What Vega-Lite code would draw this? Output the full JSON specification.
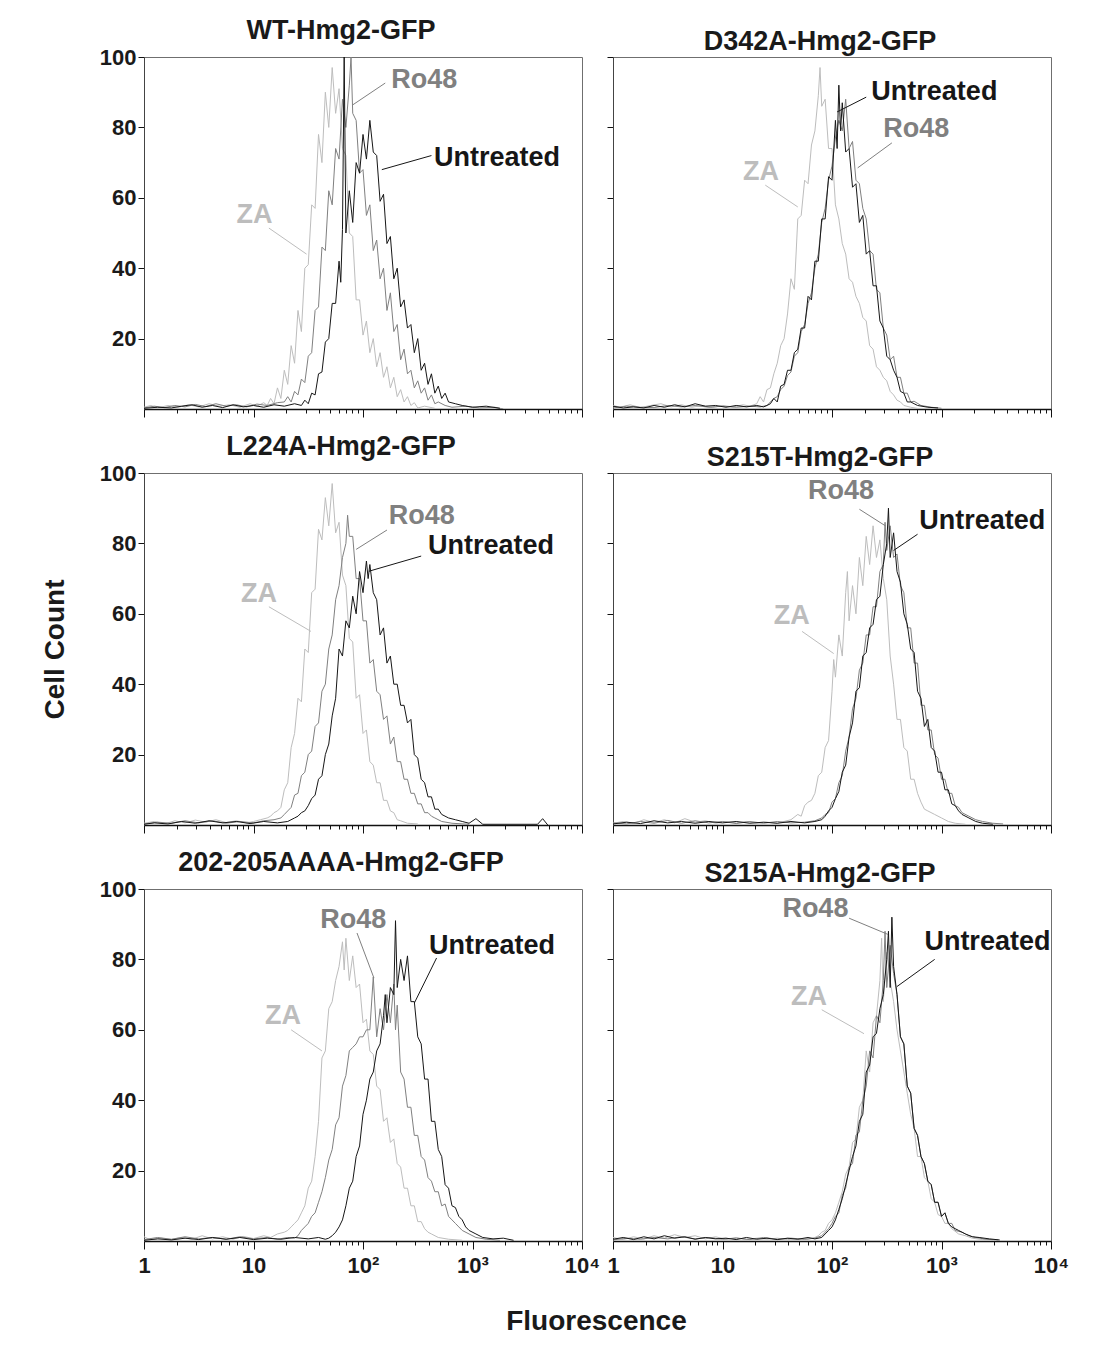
{
"$schema": "https://vega.github.io/schema/vega-lite/v6.json",
"background": "white",
"padding": {"left": 40, "top": 16, "right": 5, "bottom": 5},
"columns": 2,
"spacing": {"row": 64, "column": 31},
"bounds": "flush",
"datasets": {
"curves": [
{"p":"WT","s":"ZA","c":0,"n":0.5},{"p":"WT","s":"ZA","c":4,"n":1},{"p":"WT","s":"ZA","c":8,"n":0.3},{"p":"WT","s":"ZA","c":14,"n":1},{"p":"WT","s":"ZA","c":20,"n":0.5},{"p":"WT","s":"ZA","c":26,"n":1.2},{"p":"WT","s":"ZA","c":32,"n":0.6},{"p":"WT","s":"ZA","c":38,"n":1.5},{"p":"WT","s":"ZA","c":44,"n":0.8},{"p":"WT","s":"ZA","c":50,"n":1.2},{"p":"WT","s":"ZA","c":56,"n":0.5},{"p":"WT","s":"ZA","c":62,"n":1.5},{"p":"WT","s":"ZA","c":66,"n":0.8},{"p":"WT","s":"ZA","c":70,"n":1.8},{"p":"WT","s":"ZA","c":72,"n":1},{"p":"WT","s":"ZA","c":74,"n":3},{"p":"WT","s":"ZA","c":76,"n":1.5},{"p":"WT","s":"ZA","c":78,"n":6},{"p":"WT","s":"ZA","c":80,"n":3},{"p":"WT","s":"ZA","c":82,"n":11},{"p":"WT","s":"ZA","c":84,"n":7},{"p":"WT","s":"ZA","c":86,"n":18},{"p":"WT","s":"ZA","c":88,"n":13},{"p":"WT","s":"ZA","c":90,"n":28},{"p":"WT","s":"ZA","c":92,"n":22},{"p":"WT","s":"ZA","c":94,"n":40},{"p":"WT","s":"ZA","c":96,"n":41},{"p":"WT","s":"ZA","c":98,"n":58},{"p":"WT","s":"ZA","c":100,"n":57},{"p":"WT","s":"ZA","c":102,"n":78},{"p":"WT","s":"ZA","c":104,"n":70},{"p":"WT","s":"ZA","c":106,"n":90},{"p":"WT","s":"ZA","c":108,"n":80},{"p":"WT","s":"ZA","c":110,"n":97},{"p":"WT","s":"ZA","c":112,"n":84},{"p":"WT","s":"ZA","c":114,"n":91},{"p":"WT","s":"ZA","c":116,"n":74},{"p":"WT","s":"ZA","c":118,"n":72},{"p":"WT","s":"ZA","c":120,"n":50},{"p":"WT","s":"ZA","c":122,"n":49},{"p":"WT","s":"ZA","c":124,"n":31},{"p":"WT","s":"ZA","c":126,"n":31},{"p":"WT","s":"ZA","c":128,"n":21},{"p":"WT","s":"ZA","c":130,"n":25},{"p":"WT","s":"ZA","c":132,"n":16},{"p":"WT","s":"ZA","c":134,"n":20},{"p":"WT","s":"ZA","c":136,"n":12},{"p":"WT","s":"ZA","c":138,"n":16},{"p":"WT","s":"ZA","c":140,"n":9},{"p":"WT","s":"ZA","c":142,"n":12},{"p":"WT","s":"ZA","c":144,"n":6},{"p":"WT","s":"ZA","c":146,"n":9},{"p":"WT","s":"ZA","c":148,"n":3.5},{"p":"WT","s":"ZA","c":150,"n":5.5},{"p":"WT","s":"ZA","c":152,"n":2},{"p":"WT","s":"ZA","c":154,"n":3.5},{"p":"WT","s":"ZA","c":156,"n":1},{"p":"WT","s":"ZA","c":158,"n":1.8},{"p":"WT","s":"ZA","c":160,"n":0.3},{"p":"WT","s":"ZA","c":164,"n":0.8},{"p":"WT","s":"ZA","c":170,"n":0.2},
{"p":"WT","s":"Ro48","c":0,"n":0.3},{"p":"WT","s":"Ro48","c":6,"n":0.8},{"p":"WT","s":"Ro48","c":12,"n":0.4},{"p":"WT","s":"Ro48","c":18,"n":1},{"p":"WT","s":"Ro48","c":24,"n":0.6},{"p":"WT","s":"Ro48","c":30,"n":1.3},{"p":"WT","s":"Ro48","c":36,"n":0.7},{"p":"WT","s":"Ro48","c":42,"n":1.5},{"p":"WT","s":"Ro48","c":48,"n":0.8},{"p":"WT","s":"Ro48","c":54,"n":1.2},{"p":"WT","s":"Ro48","c":60,"n":0.6},{"p":"WT","s":"Ro48","c":66,"n":1.4},{"p":"WT","s":"Ro48","c":72,"n":1},{"p":"WT","s":"Ro48","c":78,"n":1.8},{"p":"WT","s":"Ro48","c":82,"n":2},{"p":"WT","s":"Ro48","c":84,"n":3.5},{"p":"WT","s":"Ro48","c":86,"n":2},{"p":"WT","s":"Ro48","c":88,"n":5},{"p":"WT","s":"Ro48","c":90,"n":4},{"p":"WT","s":"Ro48","c":92,"n":8.5},{"p":"WT","s":"Ro48","c":94,"n":7.5},{"p":"WT","s":"Ro48","c":96,"n":15},{"p":"WT","s":"Ro48","c":98,"n":16},{"p":"WT","s":"Ro48","c":100,"n":28},{"p":"WT","s":"Ro48","c":102,"n":29},{"p":"WT","s":"Ro48","c":104,"n":46},{"p":"WT","s":"Ro48","c":106,"n":45},{"p":"WT","s":"Ro48","c":108,"n":62},{"p":"WT","s":"Ro48","c":110,"n":58},{"p":"WT","s":"Ro48","c":112,"n":74},{"p":"WT","s":"Ro48","c":114,"n":71},{"p":"WT","s":"Ro48","c":116,"n":88},{"p":"WT","s":"Ro48","c":118,"n":80},{"p":"WT","s":"Ro48","c":120,"n":92},{"p":"WT","s":"Ro48","c":121,"n":100},{"p":"WT","s":"Ro48","c":122,"n":84},{"p":"WT","s":"Ro48","c":124,"n":82},{"p":"WT","s":"Ro48","c":126,"n":67},{"p":"WT","s":"Ro48","c":128,"n":68},{"p":"WT","s":"Ro48","c":130,"n":55},{"p":"WT","s":"Ro48","c":132,"n":58},{"p":"WT","s":"Ro48","c":134,"n":45},{"p":"WT","s":"Ro48","c":136,"n":48},{"p":"WT","s":"Ro48","c":138,"n":37},{"p":"WT","s":"Ro48","c":140,"n":40},{"p":"WT","s":"Ro48","c":142,"n":28},{"p":"WT","s":"Ro48","c":144,"n":33},{"p":"WT","s":"Ro48","c":146,"n":22},{"p":"WT","s":"Ro48","c":148,"n":24},{"p":"WT","s":"Ro48","c":150,"n":14},{"p":"WT","s":"Ro48","c":152,"n":17},{"p":"WT","s":"Ro48","c":154,"n":10},{"p":"WT","s":"Ro48","c":156,"n":11},{"p":"WT","s":"Ro48","c":158,"n":6},{"p":"WT","s":"Ro48","c":160,"n":8},{"p":"WT","s":"Ro48","c":162,"n":4.5},{"p":"WT","s":"Ro48","c":164,"n":6},{"p":"WT","s":"Ro48","c":166,"n":2.5},{"p":"WT","s":"Ro48","c":168,"n":4},{"p":"WT","s":"Ro48","c":170,"n":1.5},{"p":"WT","s":"Ro48","c":172,"n":2},{"p":"WT","s":"Ro48","c":176,"n":1},{"p":"WT","s":"Ro48","c":180,"n":0.5},{"p":"WT","s":"Ro48","c":188,"n":0.8},{"p":"WT","s":"Ro48","c":196,"n":0.3},{"p":"WT","s":"Ro48","c":205,"n":0.5},{"p":"WT","s":"Ro48","c":210,"n":0},
{"p":"WT","s":"Untreated","c":0,"n":0.2},{"p":"WT","s":"Untreated","c":8,"n":0.5},{"p":"WT","s":"Untreated","c":16,"n":0.3},{"p":"WT","s":"Untreated","c":22,"n":0.8},{"p":"WT","s":"Untreated","c":28,"n":1.2},{"p":"WT","s":"Untreated","c":34,"n":0.5},{"p":"WT","s":"Untreated","c":40,"n":1},{"p":"WT","s":"Untreated","c":46,"n":0.4},{"p":"WT","s":"Untreated","c":52,"n":1.2},{"p":"WT","s":"Untreated","c":58,"n":0.6},{"p":"WT","s":"Untreated","c":64,"n":1},{"p":"WT","s":"Untreated","c":70,"n":0.5},{"p":"WT","s":"Untreated","c":76,"n":1.2},{"p":"WT","s":"Untreated","c":82,"n":0.8},{"p":"WT","s":"Untreated","c":88,"n":1.5},{"p":"WT","s":"Untreated","c":92,"n":1},{"p":"WT","s":"Untreated","c":94,"n":2.5},{"p":"WT","s":"Untreated","c":96,"n":1.5},{"p":"WT","s":"Untreated","c":98,"n":4.5},{"p":"WT","s":"Untreated","c":100,"n":4},{"p":"WT","s":"Untreated","c":102,"n":10},{"p":"WT","s":"Untreated","c":104,"n":10.5},{"p":"WT","s":"Untreated","c":106,"n":19},{"p":"WT","s":"Untreated","c":108,"n":20},{"p":"WT","s":"Untreated","c":110,"n":30},{"p":"WT","s":"Untreated","c":112,"n":30},{"p":"WT","s":"Untreated","c":114,"n":42},{"p":"WT","s":"Untreated","c":115,"n":36},{"p":"WT","s":"Untreated","c":116,"n":51},{"p":"WT","s":"Untreated","c":117,"n":100},{"p":"WT","s":"Untreated","c":118,"n":50},{"p":"WT","s":"Untreated","c":120,"n":62},{"p":"WT","s":"Untreated","c":122,"n":53},{"p":"WT","s":"Untreated","c":124,"n":70},{"p":"WT","s":"Untreated","c":126,"n":67},{"p":"WT","s":"Untreated","c":128,"n":78},{"p":"WT","s":"Untreated","c":130,"n":71},{"p":"WT","s":"Untreated","c":132,"n":82},{"p":"WT","s":"Untreated","c":134,"n":73},{"p":"WT","s":"Untreated","c":136,"n":72},{"p":"WT","s":"Untreated","c":138,"n":59},{"p":"WT","s":"Untreated","c":140,"n":61},{"p":"WT","s":"Untreated","c":142,"n":47},{"p":"WT","s":"Untreated","c":144,"n":49},{"p":"WT","s":"Untreated","c":146,"n":37},{"p":"WT","s":"Untreated","c":148,"n":40},{"p":"WT","s":"Untreated","c":150,"n":29},{"p":"WT","s":"Untreated","c":152,"n":31},{"p":"WT","s":"Untreated","c":154,"n":23},{"p":"WT","s":"Untreated","c":156,"n":24},{"p":"WT","s":"Untreated","c":158,"n":16},{"p":"WT","s":"Untreated","c":160,"n":20},{"p":"WT","s":"Untreated","c":162,"n":11},{"p":"WT","s":"Untreated","c":164,"n":13},{"p":"WT","s":"Untreated","c":166,"n":7},{"p":"WT","s":"Untreated","c":168,"n":10},{"p":"WT","s":"Untreated","c":170,"n":4.5},{"p":"WT","s":"Untreated","c":172,"n":6.5},{"p":"WT","s":"Untreated","c":174,"n":3},{"p":"WT","s":"Untreated","c":176,"n":4.5},{"p":"WT","s":"Untreated","c":178,"n":2},{"p":"WT","s":"Untreated","c":182,"n":1.5},{"p":"WT","s":"Untreated","c":186,"n":1},{"p":"WT","s":"Untreated","c":192,"n":0.5},{"p":"WT","s":"Untreated","c":200,"n":0.8},{"p":"WT","s":"Untreated","c":208,"n":0.2},
{"p":"D342A","s":"ZA","c":0,"n":1},{"p":"D342A","s":"ZA","c":4,"n":0.5},{"p":"D342A","s":"ZA","c":10,"n":1.2},{"p":"D342A","s":"ZA","c":16,"n":0.4},{"p":"D342A","s":"ZA","c":22,"n":1},{"p":"D342A","s":"ZA","c":28,"n":1.5},{"p":"D342A","s":"ZA","c":34,"n":0.6},{"p":"D342A","s":"ZA","c":40,"n":1.2},{"p":"D342A","s":"ZA","c":46,"n":0.5},{"p":"D342A","s":"ZA","c":52,"n":1},{"p":"D342A","s":"ZA","c":58,"n":0.4},{"p":"D342A","s":"ZA","c":64,"n":1},{"p":"D342A","s":"ZA","c":70,"n":0.6},{"p":"D342A","s":"ZA","c":76,"n":1.2},{"p":"D342A","s":"ZA","c":80,"n":0.8},{"p":"D342A","s":"ZA","c":84,"n":1.5},{"p":"D342A","s":"ZA","c":86,"n":3.5},{"p":"D342A","s":"ZA","c":88,"n":2},{"p":"D342A","s":"ZA","c":90,"n":5.5},{"p":"D342A","s":"ZA","c":92,"n":6},{"p":"D342A","s":"ZA","c":94,"n":10},{"p":"D342A","s":"ZA","c":96,"n":13},{"p":"D342A","s":"ZA","c":98,"n":18},{"p":"D342A","s":"ZA","c":100,"n":20},{"p":"D342A","s":"ZA","c":102,"n":27},{"p":"D342A","s":"ZA","c":104,"n":37},{"p":"D342A","s":"ZA","c":106,"n":34},{"p":"D342A","s":"ZA","c":108,"n":54},{"p":"D342A","s":"ZA","c":110,"n":55},{"p":"D342A","s":"ZA","c":112,"n":65},{"p":"D342A","s":"ZA","c":114,"n":64},{"p":"D342A","s":"ZA","c":116,"n":75},{"p":"D342A","s":"ZA","c":118,"n":79},{"p":"D342A","s":"ZA","c":120,"n":89},{"p":"D342A","s":"ZA","c":121,"n":97},{"p":"D342A","s":"ZA","c":122,"n":86},{"p":"D342A","s":"ZA","c":124,"n":88},{"p":"D342A","s":"ZA","c":126,"n":74},{"p":"D342A","s":"ZA","c":128,"n":74},{"p":"D342A","s":"ZA","c":130,"n":58},{"p":"D342A","s":"ZA","c":132,"n":54},{"p":"D342A","s":"ZA","c":134,"n":47},{"p":"D342A","s":"ZA","c":136,"n":44},{"p":"D342A","s":"ZA","c":138,"n":37},{"p":"D342A","s":"ZA","c":140,"n":36},{"p":"D342A","s":"ZA","c":142,"n":32},{"p":"D342A","s":"ZA","c":144,"n":30},{"p":"D342A","s":"ZA","c":146,"n":26},{"p":"D342A","s":"ZA","c":148,"n":25},{"p":"D342A","s":"ZA","c":150,"n":18},{"p":"D342A","s":"ZA","c":152,"n":17},{"p":"D342A","s":"ZA","c":154,"n":12},{"p":"D342A","s":"ZA","c":156,"n":11},{"p":"D342A","s":"ZA","c":158,"n":9},{"p":"D342A","s":"ZA","c":160,"n":8},{"p":"D342A","s":"ZA","c":162,"n":5},{"p":"D342A","s":"ZA","c":164,"n":4},{"p":"D342A","s":"ZA","c":166,"n":2.5},{"p":"D342A","s":"ZA","c":168,"n":2},{"p":"D342A","s":"ZA","c":170,"n":1},{"p":"D342A","s":"ZA","c":174,"n":0.5},{"p":"D342A","s":"ZA","c":180,"n":0},
{"p":"D342A","s":"Ro48","c":0,"n":0.3},{"p":"D342A","s":"Ro48","c":8,"n":0.8},{"p":"D342A","s":"Ro48","c":16,"n":0.5},{"p":"D342A","s":"Ro48","c":24,"n":0.4},{"p":"D342A","s":"Ro48","c":32,"n":1},{"p":"D342A","s":"Ro48","c":40,"n":0.6},{"p":"D342A","s":"Ro48","c":48,"n":1},{"p":"D342A","s":"Ro48","c":56,"n":0.5},{"p":"D342A","s":"Ro48","c":64,"n":0.8},{"p":"D342A","s":"Ro48","c":72,"n":0.5},{"p":"D342A","s":"Ro48","c":80,"n":0.8},{"p":"D342A","s":"Ro48","c":86,"n":0.6},{"p":"D342A","s":"Ro48","c":90,"n":1},{"p":"D342A","s":"Ro48","c":92,"n":2},{"p":"D342A","s":"Ro48","c":94,"n":3},{"p":"D342A","s":"Ro48","c":96,"n":3.5},{"p":"D342A","s":"Ro48","c":98,"n":5.5},{"p":"D342A","s":"Ro48","c":100,"n":6.5},{"p":"D342A","s":"Ro48","c":102,"n":9.5},{"p":"D342A","s":"Ro48","c":104,"n":10.5},{"p":"D342A","s":"Ro48","c":106,"n":15},{"p":"D342A","s":"Ro48","c":108,"n":16},{"p":"D342A","s":"Ro48","c":110,"n":22},{"p":"D342A","s":"Ro48","c":112,"n":24},{"p":"D342A","s":"Ro48","c":114,"n":30},{"p":"D342A","s":"Ro48","c":116,"n":33},{"p":"D342A","s":"Ro48","c":118,"n":40},{"p":"D342A","s":"Ro48","c":120,"n":44},{"p":"D342A","s":"Ro48","c":122,"n":53},{"p":"D342A","s":"Ro48","c":124,"n":57},{"p":"D342A","s":"Ro48","c":126,"n":65},{"p":"D342A","s":"Ro48","c":128,"n":69},{"p":"D342A","s":"Ro48","c":130,"n":77},{"p":"D342A","s":"Ro48","c":132,"n":82},{"p":"D342A","s":"Ro48","c":134,"n":79},{"p":"D342A","s":"Ro48","c":136,"n":88},{"p":"D342A","s":"Ro48","c":138,"n":74},{"p":"D342A","s":"Ro48","c":140,"n":76},{"p":"D342A","s":"Ro48","c":142,"n":65},{"p":"D342A","s":"Ro48","c":144,"n":64},{"p":"D342A","s":"Ro48","c":146,"n":57},{"p":"D342A","s":"Ro48","c":148,"n":54},{"p":"D342A","s":"Ro48","c":150,"n":45},{"p":"D342A","s":"Ro48","c":152,"n":44},{"p":"D342A","s":"Ro48","c":154,"n":34},{"p":"D342A","s":"Ro48","c":156,"n":33},{"p":"D342A","s":"Ro48","c":158,"n":23},{"p":"D342A","s":"Ro48","c":160,"n":21},{"p":"D342A","s":"Ro48","c":162,"n":14},{"p":"D342A","s":"Ro48","c":164,"n":15},{"p":"D342A","s":"Ro48","c":166,"n":9},{"p":"D342A","s":"Ro48","c":168,"n":9},{"p":"D342A","s":"Ro48","c":170,"n":4.5},{"p":"D342A","s":"Ro48","c":172,"n":4.5},{"p":"D342A","s":"Ro48","c":174,"n":2},{"p":"D342A","s":"Ro48","c":176,"n":2.2},{"p":"D342A","s":"Ro48","c":180,"n":1},{"p":"D342A","s":"Ro48","c":186,"n":0.5},{"p":"D342A","s":"Ro48","c":192,"n":0.2},
{"p":"D342A","s":"Untreated","c":0,"n":0.8},{"p":"D342A","s":"Untreated","c":6,"n":0.3},{"p":"D342A","s":"Untreated","c":12,"n":0.6},{"p":"D342A","s":"Untreated","c":18,"n":0.3},{"p":"D342A","s":"Untreated","c":24,"n":1},{"p":"D342A","s":"Untreated","c":30,"n":0.5},{"p":"D342A","s":"Untreated","c":36,"n":1.2},{"p":"D342A","s":"Untreated","c":42,"n":0.6},{"p":"D342A","s":"Untreated","c":48,"n":1.5},{"p":"D342A","s":"Untreated","c":54,"n":0.8},{"p":"D342A","s":"Untreated","c":60,"n":1},{"p":"D342A","s":"Untreated","c":66,"n":0.5},{"p":"D342A","s":"Untreated","c":72,"n":1},{"p":"D342A","s":"Untreated","c":78,"n":0.6},{"p":"D342A","s":"Untreated","c":84,"n":1},{"p":"D342A","s":"Untreated","c":88,"n":0.6},{"p":"D342A","s":"Untreated","c":90,"n":1},{"p":"D342A","s":"Untreated","c":92,"n":1.5},{"p":"D342A","s":"Untreated","c":94,"n":3},{"p":"D342A","s":"Untreated","c":96,"n":2},{"p":"D342A","s":"Untreated","c":98,"n":6.5},{"p":"D342A","s":"Untreated","c":100,"n":7},{"p":"D342A","s":"Untreated","c":102,"n":11},{"p":"D342A","s":"Untreated","c":104,"n":11},{"p":"D342A","s":"Untreated","c":106,"n":16},{"p":"D342A","s":"Untreated","c":108,"n":17},{"p":"D342A","s":"Untreated","c":110,"n":23},{"p":"D342A","s":"Untreated","c":112,"n":23},{"p":"D342A","s":"Untreated","c":114,"n":32},{"p":"D342A","s":"Untreated","c":116,"n":31},{"p":"D342A","s":"Untreated","c":118,"n":42},{"p":"D342A","s":"Untreated","c":120,"n":42},{"p":"D342A","s":"Untreated","c":122,"n":54},{"p":"D342A","s":"Untreated","c":124,"n":54},{"p":"D342A","s":"Untreated","c":126,"n":66},{"p":"D342A","s":"Untreated","c":128,"n":65},{"p":"D342A","s":"Untreated","c":130,"n":82},{"p":"D342A","s":"Untreated","c":131,"n":74},{"p":"D342A","s":"Untreated","c":132,"n":92},{"p":"D342A","s":"Untreated","c":133,"n":79},{"p":"D342A","s":"Untreated","c":134,"n":87},{"p":"D342A","s":"Untreated","c":136,"n":73},{"p":"D342A","s":"Untreated","c":138,"n":74},{"p":"D342A","s":"Untreated","c":140,"n":63},{"p":"D342A","s":"Untreated","c":142,"n":64},{"p":"D342A","s":"Untreated","c":144,"n":53},{"p":"D342A","s":"Untreated","c":146,"n":55},{"p":"D342A","s":"Untreated","c":148,"n":44},{"p":"D342A","s":"Untreated","c":150,"n":45},{"p":"D342A","s":"Untreated","c":152,"n":35},{"p":"D342A","s":"Untreated","c":154,"n":35},{"p":"D342A","s":"Untreated","c":156,"n":25},{"p":"D342A","s":"Untreated","c":158,"n":23},{"p":"D342A","s":"Untreated","c":160,"n":15},{"p":"D342A","s":"Untreated","c":162,"n":14},{"p":"D342A","s":"Untreated","c":164,"n":11},{"p":"D342A","s":"Untreated","c":166,"n":9},{"p":"D342A","s":"Untreated","c":168,"n":5},{"p":"D342A","s":"Untreated","c":170,"n":4.5},{"p":"D342A","s":"Untreated","c":172,"n":2},{"p":"D342A","s":"Untreated","c":174,"n":2},{"p":"D342A","s":"Untreated","c":178,"n":1},{"p":"D342A","s":"Untreated","c":184,"n":0.5},{"p":"D342A","s":"Untreated","c":190,"n":0.3},
{"p":"L224A","s":"ZA","c":0,"n":0.5},{"p":"L224A","s":"ZA","c":6,"n":1},{"p":"L224A","s":"ZA","c":12,"n":0.3},{"p":"L224A","s":"ZA","c":18,"n":1.2},{"p":"L224A","s":"ZA","c":24,"n":0.6},{"p":"L224A","s":"ZA","c":30,"n":1.4},{"p":"L224A","s":"ZA","c":36,"n":0.8},{"p":"L224A","s":"ZA","c":42,"n":1.5},{"p":"L224A","s":"ZA","c":48,"n":0.7},{"p":"L224A","s":"ZA","c":54,"n":1.2},{"p":"L224A","s":"ZA","c":60,"n":0.6},{"p":"L224A","s":"ZA","c":64,"n":1},{"p":"L224A","s":"ZA","c":68,"n":1.5},{"p":"L224A","s":"ZA","c":72,"n":2},{"p":"L224A","s":"ZA","c":74,"n":2.5},{"p":"L224A","s":"ZA","c":76,"n":3.5},{"p":"L224A","s":"ZA","c":78,"n":4},{"p":"L224A","s":"ZA","c":80,"n":5},{"p":"L224A","s":"ZA","c":82,"n":10},{"p":"L224A","s":"ZA","c":84,"n":12},{"p":"L224A","s":"ZA","c":86,"n":22},{"p":"L224A","s":"ZA","c":88,"n":26},{"p":"L224A","s":"ZA","c":90,"n":36},{"p":"L224A","s":"ZA","c":92,"n":35},{"p":"L224A","s":"ZA","c":94,"n":50},{"p":"L224A","s":"ZA","c":96,"n":49},{"p":"L224A","s":"ZA","c":98,"n":66},{"p":"L224A","s":"ZA","c":100,"n":67},{"p":"L224A","s":"ZA","c":102,"n":84},{"p":"L224A","s":"ZA","c":104,"n":81},{"p":"L224A","s":"ZA","c":106,"n":93},{"p":"L224A","s":"ZA","c":108,"n":85},{"p":"L224A","s":"ZA","c":110,"n":97},{"p":"L224A","s":"ZA","c":112,"n":83},{"p":"L224A","s":"ZA","c":114,"n":86},{"p":"L224A","s":"ZA","c":116,"n":71},{"p":"L224A","s":"ZA","c":118,"n":68},{"p":"L224A","s":"ZA","c":120,"n":53},{"p":"L224A","s":"ZA","c":122,"n":52},{"p":"L224A","s":"ZA","c":124,"n":36},{"p":"L224A","s":"ZA","c":126,"n":37},{"p":"L224A","s":"ZA","c":128,"n":26},{"p":"L224A","s":"ZA","c":130,"n":27},{"p":"L224A","s":"ZA","c":132,"n":18},{"p":"L224A","s":"ZA","c":134,"n":17},{"p":"L224A","s":"ZA","c":136,"n":12},{"p":"L224A","s":"ZA","c":138,"n":12},{"p":"L224A","s":"ZA","c":140,"n":7},{"p":"L224A","s":"ZA","c":142,"n":7},{"p":"L224A","s":"ZA","c":144,"n":4},{"p":"L224A","s":"ZA","c":146,"n":3.5},{"p":"L224A","s":"ZA","c":148,"n":1.5},{"p":"L224A","s":"ZA","c":150,"n":1.2},{"p":"L224A","s":"ZA","c":154,"n":0.5},{"p":"L224A","s":"ZA","c":160,"n":0.3},
{"p":"L224A","s":"Ro48","c":0,"n":0.3},{"p":"L224A","s":"Ro48","c":8,"n":0.8},{"p":"L224A","s":"Ro48","c":16,"n":0.5},{"p":"L224A","s":"Ro48","c":24,"n":1.2},{"p":"L224A","s":"Ro48","c":32,"n":0.6},{"p":"L224A","s":"Ro48","c":40,"n":1.2},{"p":"L224A","s":"Ro48","c":48,"n":0.5},{"p":"L224A","s":"Ro48","c":56,"n":1},{"p":"L224A","s":"Ro48","c":64,"n":0.6},{"p":"L224A","s":"Ro48","c":70,"n":1.2},{"p":"L224A","s":"Ro48","c":76,"n":1.5},{"p":"L224A","s":"Ro48","c":80,"n":2},{"p":"L224A","s":"Ro48","c":82,"n":3},{"p":"L224A","s":"Ro48","c":84,"n":4},{"p":"L224A","s":"Ro48","c":86,"n":5},{"p":"L224A","s":"Ro48","c":88,"n":8.5},{"p":"L224A","s":"Ro48","c":90,"n":9},{"p":"L224A","s":"Ro48","c":92,"n":14},{"p":"L224A","s":"Ro48","c":94,"n":15},{"p":"L224A","s":"Ro48","c":96,"n":20},{"p":"L224A","s":"Ro48","c":98,"n":21},{"p":"L224A","s":"Ro48","c":100,"n":28},{"p":"L224A","s":"Ro48","c":102,"n":29},{"p":"L224A","s":"Ro48","c":104,"n":38},{"p":"L224A","s":"Ro48","c":106,"n":40},{"p":"L224A","s":"Ro48","c":108,"n":50},{"p":"L224A","s":"Ro48","c":110,"n":54},{"p":"L224A","s":"Ro48","c":112,"n":64},{"p":"L224A","s":"Ro48","c":114,"n":68},{"p":"L224A","s":"Ro48","c":116,"n":76},{"p":"L224A","s":"Ro48","c":118,"n":80},{"p":"L224A","s":"Ro48","c":119,"n":88},{"p":"L224A","s":"Ro48","c":120,"n":82},{"p":"L224A","s":"Ro48","c":122,"n":82},{"p":"L224A","s":"Ro48","c":124,"n":70},{"p":"L224A","s":"Ro48","c":126,"n":70},{"p":"L224A","s":"Ro48","c":128,"n":58},{"p":"L224A","s":"Ro48","c":130,"n":58},{"p":"L224A","s":"Ro48","c":132,"n":46},{"p":"L224A","s":"Ro48","c":134,"n":47},{"p":"L224A","s":"Ro48","c":136,"n":38},{"p":"L224A","s":"Ro48","c":138,"n":37},{"p":"L224A","s":"Ro48","c":140,"n":30},{"p":"L224A","s":"Ro48","c":142,"n":31},{"p":"L224A","s":"Ro48","c":144,"n":23},{"p":"L224A","s":"Ro48","c":146,"n":25},{"p":"L224A","s":"Ro48","c":148,"n":18},{"p":"L224A","s":"Ro48","c":150,"n":18},{"p":"L224A","s":"Ro48","c":152,"n":13},{"p":"L224A","s":"Ro48","c":154,"n":13},{"p":"L224A","s":"Ro48","c":156,"n":9},{"p":"L224A","s":"Ro48","c":158,"n":9},{"p":"L224A","s":"Ro48","c":160,"n":6},{"p":"L224A","s":"Ro48","c":162,"n":6},{"p":"L224A","s":"Ro48","c":164,"n":3.5},{"p":"L224A","s":"Ro48","c":166,"n":3.5},{"p":"L224A","s":"Ro48","c":168,"n":2.5},{"p":"L224A","s":"Ro48","c":170,"n":2},{"p":"L224A","s":"Ro48","c":174,"n":1},{"p":"L224A","s":"Ro48","c":180,"n":0.5},{"p":"L224A","s":"Ro48","c":190,"n":0.2},
{"p":"L224A","s":"Untreated","c":0,"n":0.2},{"p":"L224A","s":"Untreated","c":6,"n":0.6},{"p":"L224A","s":"Untreated","c":14,"n":0.3},{"p":"L224A","s":"Untreated","c":22,"n":1},{"p":"L224A","s":"Untreated","c":30,"n":0.5},{"p":"L224A","s":"Untreated","c":38,"n":1.2},{"p":"L224A","s":"Untreated","c":46,"n":0.6},{"p":"L224A","s":"Untreated","c":54,"n":1},{"p":"L224A","s":"Untreated","c":62,"n":0.4},{"p":"L224A","s":"Untreated","c":70,"n":1},{"p":"L224A","s":"Untreated","c":78,"n":0.6},{"p":"L224A","s":"Untreated","c":84,"n":1},{"p":"L224A","s":"Untreated","c":88,"n":2},{"p":"L224A","s":"Untreated","c":90,"n":2.5},{"p":"L224A","s":"Untreated","c":92,"n":3.5},{"p":"L224A","s":"Untreated","c":94,"n":4},{"p":"L224A","s":"Untreated","c":96,"n":5.5},{"p":"L224A","s":"Untreated","c":98,"n":7.5},{"p":"L224A","s":"Untreated","c":100,"n":8.5},{"p":"L224A","s":"Untreated","c":102,"n":13},{"p":"L224A","s":"Untreated","c":104,"n":14},{"p":"L224A","s":"Untreated","c":106,"n":20},{"p":"L224A","s":"Untreated","c":108,"n":23},{"p":"L224A","s":"Untreated","c":110,"n":31},{"p":"L224A","s":"Untreated","c":112,"n":36},{"p":"L224A","s":"Untreated","c":114,"n":50},{"p":"L224A","s":"Untreated","c":116,"n":48},{"p":"L224A","s":"Untreated","c":118,"n":58},{"p":"L224A","s":"Untreated","c":120,"n":56},{"p":"L224A","s":"Untreated","c":122,"n":65},{"p":"L224A","s":"Untreated","c":124,"n":60},{"p":"L224A","s":"Untreated","c":126,"n":72},{"p":"L224A","s":"Untreated","c":128,"n":66},{"p":"L224A","s":"Untreated","c":130,"n":75},{"p":"L224A","s":"Untreated","c":131,"n":70},{"p":"L224A","s":"Untreated","c":132,"n":74},{"p":"L224A","s":"Untreated","c":134,"n":66},{"p":"L224A","s":"Untreated","c":136,"n":64},{"p":"L224A","s":"Untreated","c":138,"n":54},{"p":"L224A","s":"Untreated","c":140,"n":56},{"p":"L224A","s":"Untreated","c":142,"n":46},{"p":"L224A","s":"Untreated","c":144,"n":48},{"p":"L224A","s":"Untreated","c":146,"n":40},{"p":"L224A","s":"Untreated","c":148,"n":40},{"p":"L224A","s":"Untreated","c":150,"n":34},{"p":"L224A","s":"Untreated","c":152,"n":34},{"p":"L224A","s":"Untreated","c":154,"n":29},{"p":"L224A","s":"Untreated","c":156,"n":30},{"p":"L224A","s":"Untreated","c":158,"n":20},{"p":"L224A","s":"Untreated","c":160,"n":19},{"p":"L224A","s":"Untreated","c":162,"n":13},{"p":"L224A","s":"Untreated","c":164,"n":12},{"p":"L224A","s":"Untreated","c":166,"n":8},{"p":"L224A","s":"Untreated","c":168,"n":8},{"p":"L224A","s":"Untreated","c":170,"n":4.5},{"p":"L224A","s":"Untreated","c":172,"n":4.5},{"p":"L224A","s":"Untreated","c":174,"n":3},{"p":"L224A","s":"Untreated","c":178,"n":2},{"p":"L224A","s":"Untreated","c":182,"n":1.5},{"p":"L224A","s":"Untreated","c":186,"n":1},{"p":"L224A","s":"Untreated","c":190,"n":0.5},{"p":"L224A","s":"Untreated","c":194,"n":1.8},{"p":"L224A","s":"Untreated","c":198,"n":0.2},{"p":"L224A","s":"Untreated","c":230,"n":0.2},{"p":"L224A","s":"Untreated","c":233,"n":1.8},{"p":"L224A","s":"Untreated","c":236,"n":0},
{"p":"S215T","s":"ZA","c":0,"n":0.5},{"p":"S215T","s":"ZA","c":6,"n":1},{"p":"S215T","s":"ZA","c":12,"n":0.4},{"p":"S215T","s":"ZA","c":18,"n":1.5},{"p":"S215T","s":"ZA","c":24,"n":0.7},{"p":"S215T","s":"ZA","c":30,"n":1.5},{"p":"S215T","s":"ZA","c":36,"n":0.6},{"p":"S215T","s":"ZA","c":42,"n":1.8},{"p":"S215T","s":"ZA","c":48,"n":0.8},{"p":"S215T","s":"ZA","c":54,"n":1.2},{"p":"S215T","s":"ZA","c":60,"n":0.5},{"p":"S215T","s":"ZA","c":66,"n":1},{"p":"S215T","s":"ZA","c":72,"n":0.6},{"p":"S215T","s":"ZA","c":78,"n":1},{"p":"S215T","s":"ZA","c":84,"n":0.5},{"p":"S215T","s":"ZA","c":90,"n":0.8},{"p":"S215T","s":"ZA","c":96,"n":0.5},{"p":"S215T","s":"ZA","c":100,"n":1},{"p":"S215T","s":"ZA","c":104,"n":1.5},{"p":"S215T","s":"ZA","c":108,"n":3},{"p":"S215T","s":"ZA","c":110,"n":2.5},{"p":"S215T","s":"ZA","c":112,"n":5.5},{"p":"S215T","s":"ZA","c":114,"n":6.5},{"p":"S215T","s":"ZA","c":116,"n":7},{"p":"S215T","s":"ZA","c":118,"n":9},{"p":"S215T","s":"ZA","c":120,"n":14},{"p":"S215T","s":"ZA","c":122,"n":15},{"p":"S215T","s":"ZA","c":124,"n":22},{"p":"S215T","s":"ZA","c":126,"n":24},{"p":"S215T","s":"ZA","c":128,"n":38},{"p":"S215T","s":"ZA","c":129,"n":47},{"p":"S215T","s":"ZA","c":130,"n":42},{"p":"S215T","s":"ZA","c":132,"n":54},{"p":"S215T","s":"ZA","c":134,"n":48},{"p":"S215T","s":"ZA","c":136,"n":66},{"p":"S215T","s":"ZA","c":137,"n":72},{"p":"S215T","s":"ZA","c":138,"n":58},{"p":"S215T","s":"ZA","c":140,"n":68},{"p":"S215T","s":"ZA","c":142,"n":60},{"p":"S215T","s":"ZA","c":144,"n":76},{"p":"S215T","s":"ZA","c":146,"n":68},{"p":"S215T","s":"ZA","c":148,"n":82},{"p":"S215T","s":"ZA","c":150,"n":74},{"p":"S215T","s":"ZA","c":152,"n":85},{"p":"S215T","s":"ZA","c":154,"n":76},{"p":"S215T","s":"ZA","c":156,"n":81},{"p":"S215T","s":"ZA","c":158,"n":70},{"p":"S215T","s":"ZA","c":160,"n":64},{"p":"S215T","s":"ZA","c":162,"n":48},{"p":"S215T","s":"ZA","c":164,"n":40},{"p":"S215T","s":"ZA","c":166,"n":30},{"p":"S215T","s":"ZA","c":168,"n":30},{"p":"S215T","s":"ZA","c":170,"n":22},{"p":"S215T","s":"ZA","c":172,"n":21},{"p":"S215T","s":"ZA","c":174,"n":13},{"p":"S215T","s":"ZA","c":176,"n":13},{"p":"S215T","s":"ZA","c":178,"n":9},{"p":"S215T","s":"ZA","c":180,"n":6.5},{"p":"S215T","s":"ZA","c":182,"n":4.5},{"p":"S215T","s":"ZA","c":184,"n":4},{"p":"S215T","s":"ZA","c":188,"n":3},{"p":"S215T","s":"ZA","c":192,"n":2},{"p":"S215T","s":"ZA","c":196,"n":1},{"p":"S215T","s":"ZA","c":200,"n":0.5},{"p":"S215T","s":"ZA","c":206,"n":0.2},
{"p":"S215T","s":"Ro48","c":0,"n":0.6},{"p":"S215T","s":"Ro48","c":8,"n":0.3},{"p":"S215T","s":"Ro48","c":16,"n":1},{"p":"S215T","s":"Ro48","c":24,"n":0.5},{"p":"S215T","s":"Ro48","c":32,"n":1.3},{"p":"S215T","s":"Ro48","c":40,"n":0.5},{"p":"S215T","s":"Ro48","c":48,"n":1.2},{"p":"S215T","s":"Ro48","c":56,"n":0.6},{"p":"S215T","s":"Ro48","c":64,"n":1},{"p":"S215T","s":"Ro48","c":72,"n":0.4},{"p":"S215T","s":"Ro48","c":80,"n":1},{"p":"S215T","s":"Ro48","c":88,"n":0.5},{"p":"S215T","s":"Ro48","c":96,"n":1},{"p":"S215T","s":"Ro48","c":104,"n":0.6},{"p":"S215T","s":"Ro48","c":112,"n":0.8},{"p":"S215T","s":"Ro48","c":118,"n":1.2},{"p":"S215T","s":"Ro48","c":122,"n":2},{"p":"S215T","s":"Ro48","c":124,"n":3},{"p":"S215T","s":"Ro48","c":126,"n":3.5},{"p":"S215T","s":"Ro48","c":128,"n":6.5},{"p":"S215T","s":"Ro48","c":130,"n":7.5},{"p":"S215T","s":"Ro48","c":132,"n":12},{"p":"S215T","s":"Ro48","c":134,"n":14},{"p":"S215T","s":"Ro48","c":136,"n":21},{"p":"S215T","s":"Ro48","c":138,"n":25},{"p":"S215T","s":"Ro48","c":140,"n":33},{"p":"S215T","s":"Ro48","c":142,"n":36},{"p":"S215T","s":"Ro48","c":144,"n":44},{"p":"S215T","s":"Ro48","c":146,"n":46},{"p":"S215T","s":"Ro48","c":148,"n":54},{"p":"S215T","s":"Ro48","c":150,"n":54},{"p":"S215T","s":"Ro48","c":152,"n":62},{"p":"S215T","s":"Ro48","c":154,"n":62},{"p":"S215T","s":"Ro48","c":156,"n":72},{"p":"S215T","s":"Ro48","c":158,"n":74},{"p":"S215T","s":"Ro48","c":159,"n":86},{"p":"S215T","s":"Ro48","c":160,"n":78},{"p":"S215T","s":"Ro48","c":162,"n":85},{"p":"S215T","s":"Ro48","c":164,"n":76},{"p":"S215T","s":"Ro48","c":166,"n":77},{"p":"S215T","s":"Ro48","c":168,"n":68},{"p":"S215T","s":"Ro48","c":170,"n":66},{"p":"S215T","s":"Ro48","c":172,"n":56},{"p":"S215T","s":"Ro48","c":174,"n":56},{"p":"S215T","s":"Ro48","c":176,"n":46},{"p":"S215T","s":"Ro48","c":178,"n":46},{"p":"S215T","s":"Ro48","c":180,"n":34},{"p":"S215T","s":"Ro48","c":182,"n":34},{"p":"S215T","s":"Ro48","c":184,"n":27},{"p":"S215T","s":"Ro48","c":186,"n":27},{"p":"S215T","s":"Ro48","c":188,"n":20},{"p":"S215T","s":"Ro48","c":190,"n":19},{"p":"S215T","s":"Ro48","c":192,"n":13},{"p":"S215T","s":"Ro48","c":194,"n":13},{"p":"S215T","s":"Ro48","c":196,"n":9},{"p":"S215T","s":"Ro48","c":198,"n":9},{"p":"S215T","s":"Ro48","c":200,"n":5.5},{"p":"S215T","s":"Ro48","c":202,"n":5},{"p":"S215T","s":"Ro48","c":204,"n":3.5},{"p":"S215T","s":"Ro48","c":208,"n":2.5},{"p":"S215T","s":"Ro48","c":212,"n":1.5},{"p":"S215T","s":"Ro48","c":216,"n":1},{"p":"S215T","s":"Ro48","c":222,"n":0.5},{"p":"S215T","s":"Ro48","c":228,"n":0.3},
{"p":"S215T","s":"Untreated","c":0,"n":0.3},{"p":"S215T","s":"Untreated","c":8,"n":0.8},{"p":"S215T","s":"Untreated","c":16,"n":0.4},{"p":"S215T","s":"Untreated","c":24,"n":1.2},{"p":"S215T","s":"Untreated","c":32,"n":0.6},{"p":"S215T","s":"Untreated","c":40,"n":1},{"p":"S215T","s":"Untreated","c":48,"n":0.5},{"p":"S215T","s":"Untreated","c":56,"n":1},{"p":"S215T","s":"Untreated","c":64,"n":0.6},{"p":"S215T","s":"Untreated","c":72,"n":1},{"p":"S215T","s":"Untreated","c":80,"n":0.5},{"p":"S215T","s":"Untreated","c":88,"n":0.8},{"p":"S215T","s":"Untreated","c":96,"n":0.5},{"p":"S215T","s":"Untreated","c":104,"n":1},{"p":"S215T","s":"Untreated","c":112,"n":0.6},{"p":"S215T","s":"Untreated","c":118,"n":1},{"p":"S215T","s":"Untreated","c":122,"n":1.5},{"p":"S215T","s":"Untreated","c":124,"n":2.5},{"p":"S215T","s":"Untreated","c":126,"n":4},{"p":"S215T","s":"Untreated","c":128,"n":5},{"p":"S215T","s":"Untreated","c":130,"n":7.5},{"p":"S215T","s":"Untreated","c":132,"n":9.5},{"p":"S215T","s":"Untreated","c":134,"n":15},{"p":"S215T","s":"Untreated","c":136,"n":17},{"p":"S215T","s":"Untreated","c":138,"n":25},{"p":"S215T","s":"Untreated","c":140,"n":29},{"p":"S215T","s":"Untreated","c":142,"n":38},{"p":"S215T","s":"Untreated","c":144,"n":39},{"p":"S215T","s":"Untreated","c":146,"n":48},{"p":"S215T","s":"Untreated","c":148,"n":49},{"p":"S215T","s":"Untreated","c":150,"n":56},{"p":"S215T","s":"Untreated","c":152,"n":57},{"p":"S215T","s":"Untreated","c":154,"n":64},{"p":"S215T","s":"Untreated","c":156,"n":65},{"p":"S215T","s":"Untreated","c":158,"n":74},{"p":"S215T","s":"Untreated","c":160,"n":80},{"p":"S215T","s":"Untreated","c":161,"n":90},{"p":"S215T","s":"Untreated","c":162,"n":76},{"p":"S215T","s":"Untreated","c":164,"n":83},{"p":"S215T","s":"Untreated","c":166,"n":72},{"p":"S215T","s":"Untreated","c":168,"n":69},{"p":"S215T","s":"Untreated","c":170,"n":60},{"p":"S215T","s":"Untreated","c":172,"n":57},{"p":"S215T","s":"Untreated","c":174,"n":50},{"p":"S215T","s":"Untreated","c":176,"n":49},{"p":"S215T","s":"Untreated","c":178,"n":38},{"p":"S215T","s":"Untreated","c":180,"n":36},{"p":"S215T","s":"Untreated","c":182,"n":28},{"p":"S215T","s":"Untreated","c":184,"n":30},{"p":"S215T","s":"Untreated","c":186,"n":22},{"p":"S215T","s":"Untreated","c":188,"n":21},{"p":"S215T","s":"Untreated","c":190,"n":15},{"p":"S215T","s":"Untreated","c":192,"n":15},{"p":"S215T","s":"Untreated","c":194,"n":10},{"p":"S215T","s":"Untreated","c":196,"n":10},{"p":"S215T","s":"Untreated","c":198,"n":6},{"p":"S215T","s":"Untreated","c":200,"n":5.5},{"p":"S215T","s":"Untreated","c":202,"n":4},{"p":"S215T","s":"Untreated","c":204,"n":3},{"p":"S215T","s":"Untreated","c":208,"n":2},{"p":"S215T","s":"Untreated","c":212,"n":1},{"p":"S215T","s":"Untreated","c":216,"n":0.5},{"p":"S215T","s":"Untreated","c":222,"n":0.2},
{"p":"AAAA","s":"ZA","c":0,"n":1.2},{"p":"AAAA","s":"ZA","c":4,"n":0.3},{"p":"AAAA","s":"ZA","c":10,"n":0.8},{"p":"AAAA","s":"ZA","c":16,"n":0.4},{"p":"AAAA","s":"ZA","c":22,"n":1},{"p":"AAAA","s":"ZA","c":28,"n":0.5},{"p":"AAAA","s":"ZA","c":34,"n":1.5},{"p":"AAAA","s":"ZA","c":40,"n":0.6},{"p":"AAAA","s":"ZA","c":46,"n":1.2},{"p":"AAAA","s":"ZA","c":52,"n":0.5},{"p":"AAAA","s":"ZA","c":58,"n":1.3},{"p":"AAAA","s":"ZA","c":64,"n":0.7},{"p":"AAAA","s":"ZA","c":70,"n":1.5},{"p":"AAAA","s":"ZA","c":74,"n":1},{"p":"AAAA","s":"ZA","c":78,"n":2},{"p":"AAAA","s":"ZA","c":82,"n":2.5},{"p":"AAAA","s":"ZA","c":84,"n":3},{"p":"AAAA","s":"ZA","c":86,"n":4},{"p":"AAAA","s":"ZA","c":88,"n":5},{"p":"AAAA","s":"ZA","c":90,"n":6},{"p":"AAAA","s":"ZA","c":92,"n":8},{"p":"AAAA","s":"ZA","c":94,"n":10},{"p":"AAAA","s":"ZA","c":96,"n":15},{"p":"AAAA","s":"ZA","c":98,"n":17},{"p":"AAAA","s":"ZA","c":100,"n":24},{"p":"AAAA","s":"ZA","c":102,"n":34},{"p":"AAAA","s":"ZA","c":104,"n":52},{"p":"AAAA","s":"ZA","c":106,"n":54},{"p":"AAAA","s":"ZA","c":108,"n":66},{"p":"AAAA","s":"ZA","c":110,"n":68},{"p":"AAAA","s":"ZA","c":112,"n":74},{"p":"AAAA","s":"ZA","c":114,"n":78},{"p":"AAAA","s":"ZA","c":116,"n":85},{"p":"AAAA","s":"ZA","c":117,"n":77},{"p":"AAAA","s":"ZA","c":118,"n":86},{"p":"AAAA","s":"ZA","c":120,"n":74},{"p":"AAAA","s":"ZA","c":122,"n":81},{"p":"AAAA","s":"ZA","c":124,"n":72},{"p":"AAAA","s":"ZA","c":126,"n":73},{"p":"AAAA","s":"ZA","c":128,"n":62},{"p":"AAAA","s":"ZA","c":130,"n":63},{"p":"AAAA","s":"ZA","c":132,"n":54},{"p":"AAAA","s":"ZA","c":134,"n":53},{"p":"AAAA","s":"ZA","c":136,"n":44},{"p":"AAAA","s":"ZA","c":138,"n":43},{"p":"AAAA","s":"ZA","c":140,"n":34},{"p":"AAAA","s":"ZA","c":142,"n":35},{"p":"AAAA","s":"ZA","c":144,"n":28},{"p":"AAAA","s":"ZA","c":146,"n":29},{"p":"AAAA","s":"ZA","c":148,"n":22},{"p":"AAAA","s":"ZA","c":150,"n":21},{"p":"AAAA","s":"ZA","c":152,"n":15},{"p":"AAAA","s":"ZA","c":154,"n":15},{"p":"AAAA","s":"ZA","c":156,"n":10},{"p":"AAAA","s":"ZA","c":158,"n":10},{"p":"AAAA","s":"ZA","c":160,"n":5.5},{"p":"AAAA","s":"ZA","c":162,"n":5.5},{"p":"AAAA","s":"ZA","c":164,"n":3.5},{"p":"AAAA","s":"ZA","c":166,"n":2.5},{"p":"AAAA","s":"ZA","c":168,"n":2},{"p":"AAAA","s":"ZA","c":172,"n":1},{"p":"AAAA","s":"ZA","c":178,"n":0.5},{"p":"AAAA","s":"ZA","c":186,"n":0.2},
{"p":"AAAA","s":"Ro48","c":0,"n":0.4},{"p":"AAAA","s":"Ro48","c":8,"n":1},{"p":"AAAA","s":"Ro48","c":16,"n":0.5},{"p":"AAAA","s":"Ro48","c":24,"n":1.2},{"p":"AAAA","s":"Ro48","c":32,"n":0.6},{"p":"AAAA","s":"Ro48","c":40,"n":1},{"p":"AAAA","s":"Ro48","c":48,"n":0.5},{"p":"AAAA","s":"Ro48","c":56,"n":1.2},{"p":"AAAA","s":"Ro48","c":64,"n":0.6},{"p":"AAAA","s":"Ro48","c":72,"n":1},{"p":"AAAA","s":"Ro48","c":78,"n":0.5},{"p":"AAAA","s":"Ro48","c":84,"n":1},{"p":"AAAA","s":"Ro48","c":88,"n":0.8},{"p":"AAAA","s":"Ro48","c":90,"n":1.5},{"p":"AAAA","s":"Ro48","c":92,"n":3},{"p":"AAAA","s":"Ro48","c":94,"n":4},{"p":"AAAA","s":"Ro48","c":96,"n":5},{"p":"AAAA","s":"Ro48","c":98,"n":7},{"p":"AAAA","s":"Ro48","c":100,"n":8},{"p":"AAAA","s":"Ro48","c":102,"n":11},{"p":"AAAA","s":"Ro48","c":104,"n":14},{"p":"AAAA","s":"Ro48","c":106,"n":18},{"p":"AAAA","s":"Ro48","c":108,"n":23},{"p":"AAAA","s":"Ro48","c":110,"n":26},{"p":"AAAA","s":"Ro48","c":112,"n":33},{"p":"AAAA","s":"Ro48","c":114,"n":35},{"p":"AAAA","s":"Ro48","c":116,"n":44},{"p":"AAAA","s":"Ro48","c":118,"n":47},{"p":"AAAA","s":"Ro48","c":120,"n":54},{"p":"AAAA","s":"Ro48","c":122,"n":55},{"p":"AAAA","s":"Ro48","c":124,"n":56},{"p":"AAAA","s":"Ro48","c":126,"n":58},{"p":"AAAA","s":"Ro48","c":128,"n":58},{"p":"AAAA","s":"Ro48","c":130,"n":60},{"p":"AAAA","s":"Ro48","c":132,"n":60},{"p":"AAAA","s":"Ro48","c":134,"n":75},{"p":"AAAA","s":"Ro48","c":136,"n":58},{"p":"AAAA","s":"Ro48","c":138,"n":66},{"p":"AAAA","s":"Ro48","c":140,"n":60},{"p":"AAAA","s":"Ro48","c":142,"n":70},{"p":"AAAA","s":"Ro48","c":144,"n":62},{"p":"AAAA","s":"Ro48","c":146,"n":73},{"p":"AAAA","s":"Ro48","c":147,"n":60},{"p":"AAAA","s":"Ro48","c":148,"n":67},{"p":"AAAA","s":"Ro48","c":150,"n":48},{"p":"AAAA","s":"Ro48","c":152,"n":46},{"p":"AAAA","s":"Ro48","c":154,"n":38},{"p":"AAAA","s":"Ro48","c":156,"n":38},{"p":"AAAA","s":"Ro48","c":158,"n":30},{"p":"AAAA","s":"Ro48","c":160,"n":30},{"p":"AAAA","s":"Ro48","c":162,"n":24},{"p":"AAAA","s":"Ro48","c":164,"n":23},{"p":"AAAA","s":"Ro48","c":166,"n":18},{"p":"AAAA","s":"Ro48","c":168,"n":17},{"p":"AAAA","s":"Ro48","c":170,"n":14},{"p":"AAAA","s":"Ro48","c":172,"n":14},{"p":"AAAA","s":"Ro48","c":174,"n":10},{"p":"AAAA","s":"Ro48","c":176,"n":10.5},{"p":"AAAA","s":"Ro48","c":178,"n":7},{"p":"AAAA","s":"Ro48","c":180,"n":6},{"p":"AAAA","s":"Ro48","c":182,"n":5},{"p":"AAAA","s":"Ro48","c":184,"n":4},{"p":"AAAA","s":"Ro48","c":186,"n":3},{"p":"AAAA","s":"Ro48","c":190,"n":2},{"p":"AAAA","s":"Ro48","c":194,"n":1},{"p":"AAAA","s":"Ro48","c":200,"n":0.5},{"p":"AAAA","s":"Ro48","c":208,"n":0.2},
{"p":"AAAA","s":"Untreated","c":0,"n":0.2},{"p":"AAAA","s":"Untreated","c":8,"n":0.6},{"p":"AAAA","s":"Untreated","c":16,"n":0.3},{"p":"AAAA","s":"Untreated","c":24,"n":0.8},{"p":"AAAA","s":"Untreated","c":32,"n":0.4},{"p":"AAAA","s":"Untreated","c":40,"n":1},{"p":"AAAA","s":"Untreated","c":48,"n":0.5},{"p":"AAAA","s":"Untreated","c":56,"n":1},{"p":"AAAA","s":"Untreated","c":64,"n":0.4},{"p":"AAAA","s":"Untreated","c":72,"n":0.8},{"p":"AAAA","s":"Untreated","c":80,"n":0.5},{"p":"AAAA","s":"Untreated","c":88,"n":1},{"p":"AAAA","s":"Untreated","c":96,"n":0.6},{"p":"AAAA","s":"Untreated","c":102,"n":1},{"p":"AAAA","s":"Untreated","c":106,"n":0.5},{"p":"AAAA","s":"Untreated","c":108,"n":0.8},{"p":"AAAA","s":"Untreated","c":110,"n":1.5},{"p":"AAAA","s":"Untreated","c":112,"n":2.5},{"p":"AAAA","s":"Untreated","c":114,"n":4},{"p":"AAAA","s":"Untreated","c":116,"n":6},{"p":"AAAA","s":"Untreated","c":118,"n":10},{"p":"AAAA","s":"Untreated","c":120,"n":15},{"p":"AAAA","s":"Untreated","c":122,"n":17},{"p":"AAAA","s":"Untreated","c":124,"n":24},{"p":"AAAA","s":"Untreated","c":126,"n":27},{"p":"AAAA","s":"Untreated","c":128,"n":36},{"p":"AAAA","s":"Untreated","c":130,"n":40},{"p":"AAAA","s":"Untreated","c":132,"n":46},{"p":"AAAA","s":"Untreated","c":134,"n":48},{"p":"AAAA","s":"Untreated","c":136,"n":54},{"p":"AAAA","s":"Untreated","c":138,"n":56},{"p":"AAAA","s":"Untreated","c":140,"n":64},{"p":"AAAA","s":"Untreated","c":141,"n":70},{"p":"AAAA","s":"Untreated","c":142,"n":62},{"p":"AAAA","s":"Untreated","c":144,"n":72},{"p":"AAAA","s":"Untreated","c":146,"n":70},{"p":"AAAA","s":"Untreated","c":147,"n":91},{"p":"AAAA","s":"Untreated","c":148,"n":72},{"p":"AAAA","s":"Untreated","c":150,"n":80},{"p":"AAAA","s":"Untreated","c":152,"n":74},{"p":"AAAA","s":"Untreated","c":154,"n":81},{"p":"AAAA","s":"Untreated","c":156,"n":68},{"p":"AAAA","s":"Untreated","c":158,"n":68},{"p":"AAAA","s":"Untreated","c":160,"n":58},{"p":"AAAA","s":"Untreated","c":162,"n":56},{"p":"AAAA","s":"Untreated","c":164,"n":46},{"p":"AAAA","s":"Untreated","c":166,"n":46},{"p":"AAAA","s":"Untreated","c":168,"n":34},{"p":"AAAA","s":"Untreated","c":170,"n":34},{"p":"AAAA","s":"Untreated","c":172,"n":26},{"p":"AAAA","s":"Untreated","c":174,"n":24},{"p":"AAAA","s":"Untreated","c":176,"n":16},{"p":"AAAA","s":"Untreated","c":178,"n":15},{"p":"AAAA","s":"Untreated","c":180,"n":10},{"p":"AAAA","s":"Untreated","c":182,"n":9.5},{"p":"AAAA","s":"Untreated","c":184,"n":7},{"p":"AAAA","s":"Untreated","c":186,"n":6},{"p":"AAAA","s":"Untreated","c":188,"n":4},{"p":"AAAA","s":"Untreated","c":190,"n":3},{"p":"AAAA","s":"Untreated","c":194,"n":2},{"p":"AAAA","s":"Untreated","c":198,"n":1},{"p":"AAAA","s":"Untreated","c":204,"n":0.6},{"p":"AAAA","s":"Untreated","c":210,"n":0.8},{"p":"AAAA","s":"Untreated","c":216,"n":0.2},
{"p":"S215A","s":"ZA","c":0,"n":1},{"p":"S215A","s":"ZA","c":6,"n":0.4},{"p":"S215A","s":"ZA","c":12,"n":1.2},{"p":"S215A","s":"ZA","c":18,"n":0.6},{"p":"S215A","s":"ZA","c":24,"n":1.5},{"p":"S215A","s":"ZA","c":30,"n":0.8},{"p":"S215A","s":"ZA","c":36,"n":1.8},{"p":"S215A","s":"ZA","c":42,"n":1},{"p":"S215A","s":"ZA","c":48,"n":1.5},{"p":"S215A","s":"ZA","c":54,"n":0.6},{"p":"S215A","s":"ZA","c":60,"n":1.2},{"p":"S215A","s":"ZA","c":66,"n":0.5},{"p":"S215A","s":"ZA","c":72,"n":1},{"p":"S215A","s":"ZA","c":78,"n":0.4},{"p":"S215A","s":"ZA","c":84,"n":0.8},{"p":"S215A","s":"ZA","c":90,"n":0.5},{"p":"S215A","s":"ZA","c":96,"n":0.8},{"p":"S215A","s":"ZA","c":102,"n":0.4},{"p":"S215A","s":"ZA","c":108,"n":0.6},{"p":"S215A","s":"ZA","c":114,"n":0.5},{"p":"S215A","s":"ZA","c":118,"n":1},{"p":"S215A","s":"ZA","c":120,"n":1.5},{"p":"S215A","s":"ZA","c":122,"n":2.5},{"p":"S215A","s":"ZA","c":124,"n":3},{"p":"S215A","s":"ZA","c":126,"n":5},{"p":"S215A","s":"ZA","c":128,"n":6},{"p":"S215A","s":"ZA","c":130,"n":8},{"p":"S215A","s":"ZA","c":132,"n":11},{"p":"S215A","s":"ZA","c":134,"n":14},{"p":"S215A","s":"ZA","c":136,"n":19},{"p":"S215A","s":"ZA","c":138,"n":21},{"p":"S215A","s":"ZA","c":140,"n":28},{"p":"S215A","s":"ZA","c":142,"n":29},{"p":"S215A","s":"ZA","c":144,"n":38},{"p":"S215A","s":"ZA","c":146,"n":40},{"p":"S215A","s":"ZA","c":148,"n":54},{"p":"S215A","s":"ZA","c":150,"n":48},{"p":"S215A","s":"ZA","c":152,"n":62},{"p":"S215A","s":"ZA","c":154,"n":64},{"p":"S215A","s":"ZA","c":156,"n":74},{"p":"S215A","s":"ZA","c":157,"n":86},{"p":"S215A","s":"ZA","c":158,"n":68},{"p":"S215A","s":"ZA","c":160,"n":82},{"p":"S215A","s":"ZA","c":162,"n":74},{"p":"S215A","s":"ZA","c":164,"n":68},{"p":"S215A","s":"ZA","c":166,"n":60},{"p":"S215A","s":"ZA","c":168,"n":54},{"p":"S215A","s":"ZA","c":170,"n":48},{"p":"S215A","s":"ZA","c":172,"n":42},{"p":"S215A","s":"ZA","c":174,"n":36},{"p":"S215A","s":"ZA","c":176,"n":32},{"p":"S215A","s":"ZA","c":178,"n":24},{"p":"S215A","s":"ZA","c":180,"n":24},{"p":"S215A","s":"ZA","c":182,"n":18},{"p":"S215A","s":"ZA","c":184,"n":17},{"p":"S215A","s":"ZA","c":186,"n":12},{"p":"S215A","s":"ZA","c":188,"n":11},{"p":"S215A","s":"ZA","c":190,"n":7.5},{"p":"S215A","s":"ZA","c":192,"n":7},{"p":"S215A","s":"ZA","c":194,"n":5},{"p":"S215A","s":"ZA","c":196,"n":5},{"p":"S215A","s":"ZA","c":198,"n":3.5},{"p":"S215A","s":"ZA","c":202,"n":2},{"p":"S215A","s":"ZA","c":206,"n":1.5},{"p":"S215A","s":"ZA","c":210,"n":0.8},{"p":"S215A","s":"ZA","c":216,"n":0.4},{"p":"S215A","s":"ZA","c":222,"n":0.2},
{"p":"S215A","s":"Ro48","c":0,"n":0.3},{"p":"S215A","s":"Ro48","c":8,"n":0.8},{"p":"S215A","s":"Ro48","c":16,"n":0.5},{"p":"S215A","s":"Ro48","c":24,"n":1},{"p":"S215A","s":"Ro48","c":32,"n":0.6},{"p":"S215A","s":"Ro48","c":40,"n":1.2},{"p":"S215A","s":"Ro48","c":48,"n":0.6},{"p":"S215A","s":"Ro48","c":56,"n":1},{"p":"S215A","s":"Ro48","c":64,"n":0.5},{"p":"S215A","s":"Ro48","c":72,"n":0.8},{"p":"S215A","s":"Ro48","c":80,"n":0.4},{"p":"S215A","s":"Ro48","c":88,"n":1},{"p":"S215A","s":"Ro48","c":96,"n":0.5},{"p":"S215A","s":"Ro48","c":104,"n":0.8},{"p":"S215A","s":"Ro48","c":112,"n":0.5},{"p":"S215A","s":"Ro48","c":118,"n":0.8},{"p":"S215A","s":"Ro48","c":122,"n":1.5},{"p":"S215A","s":"Ro48","c":124,"n":2.5},{"p":"S215A","s":"Ro48","c":126,"n":3.5},{"p":"S215A","s":"Ro48","c":128,"n":5},{"p":"S215A","s":"Ro48","c":130,"n":7},{"p":"S215A","s":"Ro48","c":132,"n":8},{"p":"S215A","s":"Ro48","c":134,"n":13},{"p":"S215A","s":"Ro48","c":136,"n":15},{"p":"S215A","s":"Ro48","c":138,"n":21},{"p":"S215A","s":"Ro48","c":140,"n":22},{"p":"S215A","s":"Ro48","c":142,"n":30},{"p":"S215A","s":"Ro48","c":144,"n":31},{"p":"S215A","s":"Ro48","c":146,"n":40},{"p":"S215A","s":"Ro48","c":148,"n":44},{"p":"S215A","s":"Ro48","c":150,"n":54},{"p":"S215A","s":"Ro48","c":152,"n":52},{"p":"S215A","s":"Ro48","c":154,"n":64},{"p":"S215A","s":"Ro48","c":156,"n":62},{"p":"S215A","s":"Ro48","c":158,"n":74},{"p":"S215A","s":"Ro48","c":159,"n":88},{"p":"S215A","s":"Ro48","c":160,"n":72},{"p":"S215A","s":"Ro48","c":162,"n":84},{"p":"S215A","s":"Ro48","c":164,"n":76},{"p":"S215A","s":"Ro48","c":166,"n":70},{"p":"S215A","s":"Ro48","c":168,"n":58},{"p":"S215A","s":"Ro48","c":170,"n":56},{"p":"S215A","s":"Ro48","c":172,"n":44},{"p":"S215A","s":"Ro48","c":174,"n":42},{"p":"S215A","s":"Ro48","c":176,"n":32},{"p":"S215A","s":"Ro48","c":178,"n":30},{"p":"S215A","s":"Ro48","c":180,"n":24},{"p":"S215A","s":"Ro48","c":182,"n":22},{"p":"S215A","s":"Ro48","c":184,"n":17},{"p":"S215A","s":"Ro48","c":186,"n":16},{"p":"S215A","s":"Ro48","c":188,"n":11},{"p":"S215A","s":"Ro48","c":190,"n":11},{"p":"S215A","s":"Ro48","c":192,"n":7},{"p":"S215A","s":"Ro48","c":194,"n":8},{"p":"S215A","s":"Ro48","c":196,"n":5},{"p":"S215A","s":"Ro48","c":198,"n":5},{"p":"S215A","s":"Ro48","c":200,"n":3},{"p":"S215A","s":"Ro48","c":204,"n":2.5},{"p":"S215A","s":"Ro48","c":208,"n":1.5},{"p":"S215A","s":"Ro48","c":212,"n":1},{"p":"S215A","s":"Ro48","c":218,"n":0.5},{"p":"S215A","s":"Ro48","c":225,"n":0.3},
{"p":"S215A","s":"Untreated","c":0,"n":0.5},{"p":"S215A","s":"Untreated","c":6,"n":1},{"p":"S215A","s":"Untreated","c":12,"n":0.4},{"p":"S215A","s":"Untreated","c":18,"n":1.2},{"p":"S215A","s":"Untreated","c":24,"n":0.6},{"p":"S215A","s":"Untreated","c":30,"n":1.5},{"p":"S215A","s":"Untreated","c":36,"n":0.8},{"p":"S215A","s":"Untreated","c":42,"n":1.2},{"p":"S215A","s":"Untreated","c":48,"n":0.5},{"p":"S215A","s":"Untreated","c":54,"n":1},{"p":"S215A","s":"Untreated","c":60,"n":0.6},{"p":"S215A","s":"Untreated","c":66,"n":0.8},{"p":"S215A","s":"Untreated","c":72,"n":0.4},{"p":"S215A","s":"Untreated","c":78,"n":1},{"p":"S215A","s":"Untreated","c":84,"n":0.5},{"p":"S215A","s":"Untreated","c":90,"n":0.8},{"p":"S215A","s":"Untreated","c":96,"n":0.4},{"p":"S215A","s":"Untreated","c":102,"n":0.8},{"p":"S215A","s":"Untreated","c":108,"n":0.5},{"p":"S215A","s":"Untreated","c":114,"n":1},{"p":"S215A","s":"Untreated","c":118,"n":0.6},{"p":"S215A","s":"Untreated","c":122,"n":1},{"p":"S215A","s":"Untreated","c":124,"n":2},{"p":"S215A","s":"Untreated","c":126,"n":3},{"p":"S215A","s":"Untreated","c":128,"n":4},{"p":"S215A","s":"Untreated","c":130,"n":6},{"p":"S215A","s":"Untreated","c":132,"n":9},{"p":"S215A","s":"Untreated","c":134,"n":12},{"p":"S215A","s":"Untreated","c":136,"n":16},{"p":"S215A","s":"Untreated","c":138,"n":20},{"p":"S215A","s":"Untreated","c":140,"n":24},{"p":"S215A","s":"Untreated","c":142,"n":27},{"p":"S215A","s":"Untreated","c":144,"n":34},{"p":"S215A","s":"Untreated","c":146,"n":36},{"p":"S215A","s":"Untreated","c":148,"n":48},{"p":"S215A","s":"Untreated","c":150,"n":50},{"p":"S215A","s":"Untreated","c":152,"n":58},{"p":"S215A","s":"Untreated","c":154,"n":59},{"p":"S215A","s":"Untreated","c":156,"n":66},{"p":"S215A","s":"Untreated","c":158,"n":70},{"p":"S215A","s":"Untreated","c":160,"n":80},{"p":"S215A","s":"Untreated","c":161,"n":88},{"p":"S215A","s":"Untreated","c":162,"n":72},{"p":"S215A","s":"Untreated","c":163,"n":92},{"p":"S215A","s":"Untreated","c":164,"n":78},{"p":"S215A","s":"Untreated","c":166,"n":70},{"p":"S215A","s":"Untreated","c":168,"n":58},{"p":"S215A","s":"Untreated","c":170,"n":56},{"p":"S215A","s":"Untreated","c":172,"n":44},{"p":"S215A","s":"Untreated","c":174,"n":42},{"p":"S215A","s":"Untreated","c":176,"n":32},{"p":"S215A","s":"Untreated","c":178,"n":30},{"p":"S215A","s":"Untreated","c":180,"n":24},{"p":"S215A","s":"Untreated","c":182,"n":22},{"p":"S215A","s":"Untreated","c":184,"n":17},{"p":"S215A","s":"Untreated","c":186,"n":16},{"p":"S215A","s":"Untreated","c":188,"n":11},{"p":"S215A","s":"Untreated","c":190,"n":11},{"p":"S215A","s":"Untreated","c":192,"n":7},{"p":"S215A","s":"Untreated","c":194,"n":8},{"p":"S215A","s":"Untreated","c":196,"n":5},{"p":"S215A","s":"Untreated","c":198,"n":4},{"p":"S215A","s":"Untreated","c":200,"n":3.5},{"p":"S215A","s":"Untreated","c":202,"n":3},{"p":"S215A","s":"Untreated","c":206,"n":2},{"p":"S215A","s":"Untreated","c":210,"n":1.2},{"p":"S215A","s":"Untreated","c":214,"n":1},{"p":"S215A","s":"Untreated","c":220,"n":0.6},{"p":"S215A","s":"Untreated","c":226,"n":0.3}
],
"ann": [
{"p":"WT","s":"ZA","t":"ZA","lc":54,"lv":55,"ac":73,"av":51.4,"bc":95,"bv":44},
{"p":"WT","s":"Ro48","t":"Ro48","lc":144.5,"lv":93.5,"ac":141,"av":92.6,"bc":122,"bv":86.4},
{"p":"WT","s":"Untreated","t":"Untreated","lc":169.5,"lv":71.3,"ac":168,"av":72,"bc":139,"bv":68},
{"p":"D342A","s":"ZA","t":"ZA","lc":76,"lv":67.3,"ac":89,"av":63.6,"bc":108,"bv":57.4},
{"p":"D342A","s":"Ro48","t":"Ro48","lc":158,"lv":79.5,"ac":163,"av":75.6,"bc":143,"bv":68.5},
{"p":"D342A","s":"Untreated","t":"Untreated","lc":151,"lv":90,"ac":148,"av":88.6,"bc":131,"bv":84.4},
{"p":"L224A","s":"ZA","t":"ZA","lc":56.7,"lv":65.5,"ac":73,"av":62,"bc":97.6,"bv":55},
{"p":"L224A","s":"Ro48","t":"Ro48","lc":143,"lv":87.7,"ac":142,"av":83.8,"bc":124,"bv":78.3},
{"p":"L224A","s":"Untreated","t":"Untreated","lc":166,"lv":79.2,"ac":162,"av":76.4,"bc":131.5,"bv":72.1},
{"p":"S215T","s":"ZA","t":"ZA","lc":94,"lv":59.5,"ac":110.5,"av":55,"bc":129,"bv":48.7},
{"p":"S215T","s":"Ro48","t":"Ro48","lc":114,"lv":94.9,"ac":144,"av":89.7,"bc":159.5,"bv":84.9},
{"p":"S215T","s":"Untreated","t":"Untreated","lc":179,"lv":86.3,"ac":178,"av":82.6,"bc":164,"bv":78},
{"p":"AAAA","s":"ZA","t":"ZA","lc":70.7,"lv":63.9,"ac":86,"av":60,"bc":104,"bv":54},
{"p":"AAAA","s":"Ro48","t":"Ro48","lc":103,"lv":91.2,"ac":124.5,"av":87.5,"bc":134.4,"bv":74.7},
{"p":"AAAA","s":"Untreated","t":"Untreated","lc":166.6,"lv":83.8,"ac":171,"av":80.4,"bc":158,"bv":67.6},
{"p":"S215A","s":"ZA","t":"ZA","lc":104,"lv":69.4,"ac":122,"av":65.7,"bc":146.7,"bv":58.9},
{"p":"S215A","s":"Ro48","t":"Ro48","lc":99,"lv":94.3,"ac":138,"av":91.7,"bc":160.7,"bv":87.1},
{"p":"S215A","s":"Untreated","t":"Untreated","lc":182,"lv":84.9,"ac":188,"av":80,"bc":166,"bv":72.3}
]
},
"concat": [
{"width":438,"height":352,"title":{"text":"WT-Hmg2-GFP","dx":-22},
 "layer":[
  {"data":{"name":"curves"},"transform":[{"filter":"datum.p==='WT'"}],"mark":{"type":"line","strokeWidth":1,"clip":true},
   "encoding":{"x":{"field":"c","type":"quantitative","scale":{"domain":[0,256],"nice":false,"zero":false},"axis":{"values":[0,19.27,30.54,38.53,44.74,49.8,54.09,57.8,61.07,64,83.27,94.54,102.53,108.74,113.8,118.09,121.8,125.07,128,147.27,158.54,166.53,172.74,177.8,182.09,185.8,189.07,192,211.27,222.54,230.53,236.74,241.8,246.09,249.8,253.07,256],"labels":false,"tickSize":{"condition":{"test":"datum.value % 64 === 0","value":8},"value":4},"title":null}},
    "y":{"field":"n","type":"quantitative","scale":{"domain":[0,100],"nice":false},"axis":{"values":[20,40,60,80,100],"tickSize":6,"labelPadding":2,"title":null}},
    "color":{"field":"s","type":"nominal","scale":{"domain":["ZA","Ro48","Untreated"],"range":["#bdbdbd","#808080","#161616"]},"legend":null}}},
  {"data":{"name":"ann"},"transform":[{"filter":"datum.p==='WT'"}],"mark":{"type":"rule","strokeWidth":1},
   "encoding":{"x":{"field":"ac","type":"quantitative","axis":{"values":[0,19.27,30.54,38.53,44.74,49.8,54.09,57.8,61.07,64,83.27,94.54,102.53,108.74,113.8,118.09,121.8,125.07,128,147.27,158.54,166.53,172.74,177.8,182.09,185.8,189.07,192,211.27,222.54,230.53,236.74,241.8,246.09,249.8,253.07,256],"labels":false,"tickSize":{"condition":{"test":"datum.value % 64 === 0","value":8},"value":4},"title":null}},"y":{"field":"av","type":"quantitative"},"x2":{"field":"bc"},"y2":{"field":"bv"},"color":{"field":"s","type":"nominal","legend":null}}},
  {"data":{"name":"ann"},"transform":[{"filter":"datum.p==='WT'"}],"mark":{"type":"text","align":"left","baseline":"middle","fontSize":27,"fontWeight":"bold","font":"Liberation Sans"},
   "encoding":{"x":{"field":"lc","type":"quantitative","axis":{"values":[0,19.27,30.54,38.53,44.74,49.8,54.09,57.8,61.07,64,83.27,94.54,102.53,108.74,113.8,118.09,121.8,125.07,128,147.27,158.54,166.53,172.74,177.8,182.09,185.8,189.07,192,211.27,222.54,230.53,236.74,241.8,246.09,249.8,253.07,256],"labels":false,"tickSize":{"condition":{"test":"datum.value % 64 === 0","value":8},"value":4},"title":null}},"y":{"field":"lv","type":"quantitative"},"text":{"field":"t"},"color":{"field":"s","type":"nominal","legend":null}}}
 ]},
{"width":438,"height":352,"title":{"text":"D342A-Hmg2-GFP","dx":-12},
 "layer":[
  {"data":{"name":"curves"},"transform":[{"filter":"datum.p==='D342A'"}],"mark":{"type":"line","strokeWidth":1,"clip":true},
   "encoding":{"x":{"field":"c","type":"quantitative","scale":{"domain":[0,256],"nice":false,"zero":false},"axis":{"values":[0,19.27,30.54,38.53,44.74,49.8,54.09,57.8,61.07,64,83.27,94.54,102.53,108.74,113.8,118.09,121.8,125.07,128,147.27,158.54,166.53,172.74,177.8,182.09,185.8,189.07,192,211.27,222.54,230.53,236.74,241.8,246.09,249.8,253.07,256],"labels":false,"tickSize":{"condition":{"test":"datum.value % 64 === 0","value":8},"value":4},"title":null}},
    "y":{"field":"n","type":"quantitative","scale":{"domain":[0,100],"nice":false},"axis":{"values":[20,40,60,80,100],"tickSize":6,"labels":false,"title":null}},
    "color":{"field":"s","type":"nominal","scale":{"domain":["ZA","Ro48","Untreated"],"range":["#bdbdbd","#808080","#161616"]},"legend":null}}},
  {"data":{"name":"ann"},"transform":[{"filter":"datum.p==='D342A'"}],"mark":{"type":"rule","strokeWidth":1},
   "encoding":{"x":{"field":"ac","type":"quantitative","axis":{"values":[0,19.27,30.54,38.53,44.74,49.8,54.09,57.8,61.07,64,83.27,94.54,102.53,108.74,113.8,118.09,121.8,125.07,128,147.27,158.54,166.53,172.74,177.8,182.09,185.8,189.07,192,211.27,222.54,230.53,236.74,241.8,246.09,249.8,253.07,256],"labels":false,"tickSize":{"condition":{"test":"datum.value % 64 === 0","value":8},"value":4},"title":null}},"y":{"field":"av","type":"quantitative"},"x2":{"field":"bc"},"y2":{"field":"bv"},"color":{"field":"s","type":"nominal","legend":null}}},
  {"data":{"name":"ann"},"transform":[{"filter":"datum.p==='D342A'"}],"mark":{"type":"text","align":"left","baseline":"middle","fontSize":27,"fontWeight":"bold","font":"Liberation Sans"},
   "encoding":{"x":{"field":"lc","type":"quantitative","axis":{"values":[0,19.27,30.54,38.53,44.74,49.8,54.09,57.8,61.07,64,83.27,94.54,102.53,108.74,113.8,118.09,121.8,125.07,128,147.27,158.54,166.53,172.74,177.8,182.09,185.8,189.07,192,211.27,222.54,230.53,236.74,241.8,246.09,249.8,253.07,256],"labels":false,"tickSize":{"condition":{"test":"datum.value % 64 === 0","value":8},"value":4},"title":null}},"y":{"field":"lv","type":"quantitative"},"text":{"field":"t"},"color":{"field":"s","type":"nominal","legend":null}}}
 ]},
{"width":438,"height":352,"title":{"text":"L224A-Hmg2-GFP","dx":-22},
 "layer":[
  {"data":{"name":"curves"},"transform":[{"filter":"datum.p==='L224A'"}],"mark":{"type":"line","strokeWidth":1,"clip":true},
   "encoding":{"x":{"field":"c","type":"quantitative","scale":{"domain":[0,256],"nice":false,"zero":false},"axis":{"values":[0,19.27,30.54,38.53,44.74,49.8,54.09,57.8,61.07,64,83.27,94.54,102.53,108.74,113.8,118.09,121.8,125.07,128,147.27,158.54,166.53,172.74,177.8,182.09,185.8,189.07,192,211.27,222.54,230.53,236.74,241.8,246.09,249.8,253.07,256],"labels":false,"tickSize":{"condition":{"test":"datum.value % 64 === 0","value":8},"value":4},"title":null}},
    "y":{"field":"n","type":"quantitative","scale":{"domain":[0,100],"nice":false},"axis":{"values":[20,40,60,80,100],"tickSize":6,"labelPadding":2,"title":"Cell Count","titlePadding":30}},
    "color":{"field":"s","type":"nominal","scale":{"domain":["ZA","Ro48","Untreated"],"range":["#bdbdbd","#808080","#161616"]},"legend":null}}},
  {"data":{"name":"ann"},"transform":[{"filter":"datum.p==='L224A'"}],"mark":{"type":"rule","strokeWidth":1},
   "encoding":{"x":{"field":"ac","type":"quantitative","axis":{"values":[0,19.27,30.54,38.53,44.74,49.8,54.09,57.8,61.07,64,83.27,94.54,102.53,108.74,113.8,118.09,121.8,125.07,128,147.27,158.54,166.53,172.74,177.8,182.09,185.8,189.07,192,211.27,222.54,230.53,236.74,241.8,246.09,249.8,253.07,256],"labels":false,"tickSize":{"condition":{"test":"datum.value % 64 === 0","value":8},"value":4},"title":null}},"y":{"field":"av","type":"quantitative"},"x2":{"field":"bc"},"y2":{"field":"bv"},"color":{"field":"s","type":"nominal","legend":null}}},
  {"data":{"name":"ann"},"transform":[{"filter":"datum.p==='L224A'"}],"mark":{"type":"text","align":"left","baseline":"middle","fontSize":27,"fontWeight":"bold","font":"Liberation Sans"},
   "encoding":{"x":{"field":"lc","type":"quantitative","axis":{"values":[0,19.27,30.54,38.53,44.74,49.8,54.09,57.8,61.07,64,83.27,94.54,102.53,108.74,113.8,118.09,121.8,125.07,128,147.27,158.54,166.53,172.74,177.8,182.09,185.8,189.07,192,211.27,222.54,230.53,236.74,241.8,246.09,249.8,253.07,256],"labels":false,"tickSize":{"condition":{"test":"datum.value % 64 === 0","value":8},"value":4},"title":null}},"y":{"field":"lv","type":"quantitative"},"text":{"field":"t"},"color":{"field":"s","type":"nominal","legend":null}}}
 ]},
{"width":438,"height":352,"title":{"text":"S215T-Hmg2-GFP","dx":-12},
 "layer":[
  {"data":{"name":"curves"},"transform":[{"filter":"datum.p==='S215T'"}],"mark":{"type":"line","strokeWidth":1,"clip":true},
   "encoding":{"x":{"field":"c","type":"quantitative","scale":{"domain":[0,256],"nice":false,"zero":false},"axis":{"values":[0,19.27,30.54,38.53,44.74,49.8,54.09,57.8,61.07,64,83.27,94.54,102.53,108.74,113.8,118.09,121.8,125.07,128,147.27,158.54,166.53,172.74,177.8,182.09,185.8,189.07,192,211.27,222.54,230.53,236.74,241.8,246.09,249.8,253.07,256],"labels":false,"tickSize":{"condition":{"test":"datum.value % 64 === 0","value":8},"value":4},"title":null}},
    "y":{"field":"n","type":"quantitative","scale":{"domain":[0,100],"nice":false},"axis":{"values":[20,40,60,80,100],"tickSize":6,"labels":false,"title":null}},
    "color":{"field":"s","type":"nominal","scale":{"domain":["ZA","Ro48","Untreated"],"range":["#bdbdbd","#808080","#161616"]},"legend":null}}},
  {"data":{"name":"ann"},"transform":[{"filter":"datum.p==='S215T'"}],"mark":{"type":"rule","strokeWidth":1},
   "encoding":{"x":{"field":"ac","type":"quantitative","axis":{"values":[0,19.27,30.54,38.53,44.74,49.8,54.09,57.8,61.07,64,83.27,94.54,102.53,108.74,113.8,118.09,121.8,125.07,128,147.27,158.54,166.53,172.74,177.8,182.09,185.8,189.07,192,211.27,222.54,230.53,236.74,241.8,246.09,249.8,253.07,256],"labels":false,"tickSize":{"condition":{"test":"datum.value % 64 === 0","value":8},"value":4},"title":null}},"y":{"field":"av","type":"quantitative"},"x2":{"field":"bc"},"y2":{"field":"bv"},"color":{"field":"s","type":"nominal","legend":null}}},
  {"data":{"name":"ann"},"transform":[{"filter":"datum.p==='S215T'"}],"mark":{"type":"text","align":"left","baseline":"middle","fontSize":27,"fontWeight":"bold","font":"Liberation Sans"},
   "encoding":{"x":{"field":"lc","type":"quantitative","axis":{"values":[0,19.27,30.54,38.53,44.74,49.8,54.09,57.8,61.07,64,83.27,94.54,102.53,108.74,113.8,118.09,121.8,125.07,128,147.27,158.54,166.53,172.74,177.8,182.09,185.8,189.07,192,211.27,222.54,230.53,236.74,241.8,246.09,249.8,253.07,256],"labels":false,"tickSize":{"condition":{"test":"datum.value % 64 === 0","value":8},"value":4},"title":null}},"y":{"field":"lv","type":"quantitative"},"text":{"field":"t"},"color":{"field":"s","type":"nominal","legend":null}}}
 ]},
{"width":438,"height":352,"title":{"text":"202-205AAAA-Hmg2-GFP","dx":-22},
 "layer":[
  {"data":{"name":"curves"},"transform":[{"filter":"datum.p==='AAAA'"}],"mark":{"type":"line","strokeWidth":1,"clip":true},
   "encoding":{"x":{"field":"c","type":"quantitative","scale":{"domain":[0,256],"nice":false,"zero":false},"axis":{"values":[0,19.27,30.54,38.53,44.74,49.8,54.09,57.8,61.07,64,83.27,94.54,102.53,108.74,113.8,118.09,121.8,125.07,128,147.27,158.54,166.53,172.74,177.8,182.09,185.8,189.07,192,211.27,222.54,230.53,236.74,241.8,246.09,249.8,253.07,256],"labelExpr":"datum.value===0?'1':datum.value===64?'10':datum.value===128?'10²':datum.value===192?'10³':datum.value===256?'10⁴':''","labelOverlap":false,"labelFlush":false,"tickSize":{"condition":{"test":"datum.value % 64 === 0","value":8},"value":4},"title":"Fluorescence","titleX":452,"titleY":66,"titleBaseline":"top","titleAlign":"center"}},
    "y":{"field":"n","type":"quantitative","scale":{"domain":[0,100],"nice":false},"axis":{"values":[20,40,60,80,100],"tickSize":6,"labelPadding":2,"title":null}},
    "color":{"field":"s","type":"nominal","scale":{"domain":["ZA","Ro48","Untreated"],"range":["#bdbdbd","#808080","#161616"]},"legend":null}}},
  {"data":{"name":"ann"},"transform":[{"filter":"datum.p==='AAAA'"}],"mark":{"type":"rule","strokeWidth":1},
   "encoding":{"x":{"field":"ac","type":"quantitative","axis":{"values":[0,19.27,30.54,38.53,44.74,49.8,54.09,57.8,61.07,64,83.27,94.54,102.53,108.74,113.8,118.09,121.8,125.07,128,147.27,158.54,166.53,172.74,177.8,182.09,185.8,189.07,192,211.27,222.54,230.53,236.74,241.8,246.09,249.8,253.07,256],"labelExpr":"datum.value===0?'1':datum.value===64?'10':datum.value===128?'10²':datum.value===192?'10³':datum.value===256?'10⁴':''","labelOverlap":false,"labelFlush":false,"tickSize":{"condition":{"test":"datum.value % 64 === 0","value":8},"value":4},"title":"Fluorescence","titleX":452,"titleY":66,"titleBaseline":"top","titleAlign":"center"}},"y":{"field":"av","type":"quantitative"},"x2":{"field":"bc"},"y2":{"field":"bv"},"color":{"field":"s","type":"nominal","legend":null}}},
  {"data":{"name":"ann"},"transform":[{"filter":"datum.p==='AAAA'"}],"mark":{"type":"text","align":"left","baseline":"middle","fontSize":27,"fontWeight":"bold","font":"Liberation Sans"},
   "encoding":{"x":{"field":"lc","type":"quantitative","axis":{"values":[0,19.27,30.54,38.53,44.74,49.8,54.09,57.8,61.07,64,83.27,94.54,102.53,108.74,113.8,118.09,121.8,125.07,128,147.27,158.54,166.53,172.74,177.8,182.09,185.8,189.07,192,211.27,222.54,230.53,236.74,241.8,246.09,249.8,253.07,256],"labelExpr":"datum.value===0?'1':datum.value===64?'10':datum.value===128?'10²':datum.value===192?'10³':datum.value===256?'10⁴':''","labelOverlap":false,"labelFlush":false,"tickSize":{"condition":{"test":"datum.value % 64 === 0","value":8},"value":4},"title":"Fluorescence","titleX":452,"titleY":66,"titleBaseline":"top","titleAlign":"center"}},"y":{"field":"lv","type":"quantitative"},"text":{"field":"t"},"color":{"field":"s","type":"nominal","legend":null}}}
 ]},
{"width":438,"height":352,"title":{"text":"S215A-Hmg2-GFP","dx":-12},
 "layer":[
  {"data":{"name":"curves"},"transform":[{"filter":"datum.p==='S215A'"}],"mark":{"type":"line","strokeWidth":1,"clip":true},
   "encoding":{"x":{"field":"c","type":"quantitative","scale":{"domain":[0,256],"nice":false,"zero":false},"axis":{"values":[0,19.27,30.54,38.53,44.74,49.8,54.09,57.8,61.07,64,83.27,94.54,102.53,108.74,113.8,118.09,121.8,125.07,128,147.27,158.54,166.53,172.74,177.8,182.09,185.8,189.07,192,211.27,222.54,230.53,236.74,241.8,246.09,249.8,253.07,256],"labelExpr":"datum.value===0?'1':datum.value===64?'10':datum.value===128?'10²':datum.value===192?'10³':datum.value===256?'10⁴':''","labelOverlap":false,"labelFlush":false,"tickSize":{"condition":{"test":"datum.value % 64 === 0","value":8},"value":4},"title":null}},
    "y":{"field":"n","type":"quantitative","scale":{"domain":[0,100],"nice":false},"axis":{"values":[20,40,60,80,100],"tickSize":6,"labels":false,"title":null}},
    "color":{"field":"s","type":"nominal","scale":{"domain":["ZA","Ro48","Untreated"],"range":["#bdbdbd","#808080","#161616"]},"legend":null}}},
  {"data":{"name":"ann"},"transform":[{"filter":"datum.p==='S215A'"}],"mark":{"type":"rule","strokeWidth":1},
   "encoding":{"x":{"field":"ac","type":"quantitative","axis":{"values":[0,19.27,30.54,38.53,44.74,49.8,54.09,57.8,61.07,64,83.27,94.54,102.53,108.74,113.8,118.09,121.8,125.07,128,147.27,158.54,166.53,172.74,177.8,182.09,185.8,189.07,192,211.27,222.54,230.53,236.74,241.8,246.09,249.8,253.07,256],"labelExpr":"datum.value===0?'1':datum.value===64?'10':datum.value===128?'10²':datum.value===192?'10³':datum.value===256?'10⁴':''","labelOverlap":false,"labelFlush":false,"tickSize":{"condition":{"test":"datum.value % 64 === 0","value":8},"value":4},"title":null}},"y":{"field":"av","type":"quantitative"},"x2":{"field":"bc"},"y2":{"field":"bv"},"color":{"field":"s","type":"nominal","legend":null}}},
  {"data":{"name":"ann"},"transform":[{"filter":"datum.p==='S215A'"}],"mark":{"type":"text","align":"left","baseline":"middle","fontSize":27,"fontWeight":"bold","font":"Liberation Sans"},
   "encoding":{"x":{"field":"lc","type":"quantitative","axis":{"values":[0,19.27,30.54,38.53,44.74,49.8,54.09,57.8,61.07,64,83.27,94.54,102.53,108.74,113.8,118.09,121.8,125.07,128,147.27,158.54,166.53,172.74,177.8,182.09,185.8,189.07,192,211.27,222.54,230.53,236.74,241.8,246.09,249.8,253.07,256],"labelExpr":"datum.value===0?'1':datum.value===64?'10':datum.value===128?'10²':datum.value===192?'10³':datum.value===256?'10⁴':''","labelOverlap":false,"labelFlush":false,"tickSize":{"condition":{"test":"datum.value % 64 === 0","value":8},"value":4},"title":null}},"y":{"field":"lv","type":"quantitative"},"text":{"field":"t"},"color":{"field":"s","type":"nominal","legend":null}}}
 ]}
],
"config": {
 "font": "Liberation Sans",
 "view": {"stroke": "#6f6f6f", "strokeWidth": 1},
 "title": {"font": "Liberation Sans", "fontSize": 27, "fontWeight": "bold", "color": "#1a1a1a", "anchor": "middle", "frame": "group", "offset": 1},
 "axis": {"grid": false, "domainColor": "#111", "tickColor": "#111", "tickWidth": 1, "labelFont": "Liberation Sans", "labelFontSize": 22, "labelFontWeight": "bold", "labelColor": "#1a1a1a", "labelOverlap": false, "labelFlush": false, "titleFont": "Liberation Sans", "titleFontSize": 28, "titleFontWeight": "bold", "titleColor": "#1a1a1a"},
 "axisX": {"domainWidth": 1.5, "labelPadding": 6},
 "axisY": {"domainColor": "#444", "domainWidth": 1}
}
}
